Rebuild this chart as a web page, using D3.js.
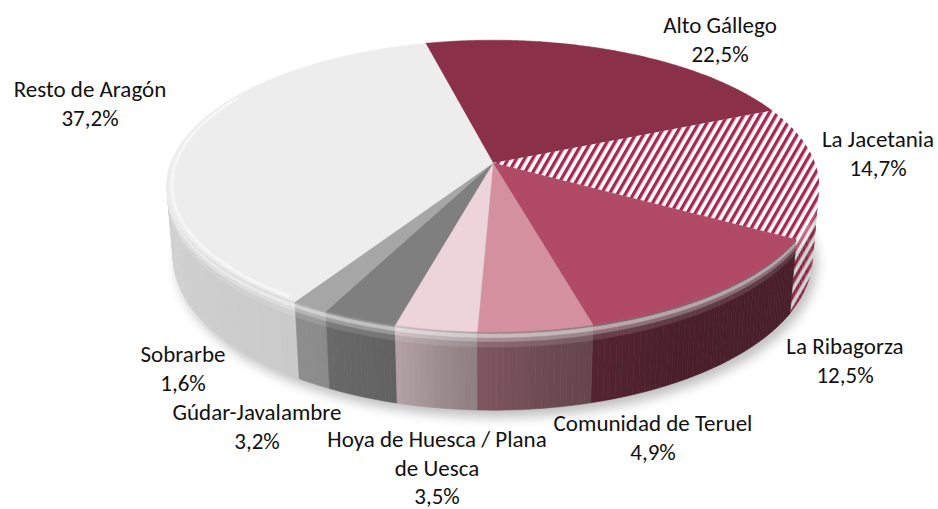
<!DOCTYPE html>
<html>
<head>
<meta charset="utf-8">
<script src="https://cdn.jsdelivr.net/npm/d3@7"></script>
<style>
  body { margin: 0; background: #fff; }
  svg text { font-family: Carlito, Calibri, Lato, sans-serif; fill: #111; }
</style>
</head>
<body>
<svg id="pie" width="938" height="509"></svg>
<script>
// --- data ---
const regions = ["Alto Gállego", "La Jacetania", "La Ribagorza", "Comunidad de Teruel",
  "Hoya de Huesca / Plana de Uesca", "Gúdar-Javalambre", "Sobrarbe", "Resto de Aragón"];
const shares = [22.5, 14.7, 12.5, 4.9, 3.5, 3.2, 1.6, 37.2];
const topColors = ["#8a3149", "hatch", "#b04a67", "#d4909f", "#ecd4da", "#7f7f7f", "#a6a6a6", "#ededed"];

// label anchors (centre x, first baseline)
const labelAt = [[720, 33], [878, 147], [845, 354], [653, 431], [437, 447], [257, 420], [183, 362], [90, 97]];

const svg = d3.select("#pie");
const defs = svg.append("defs");

// --- 3D projection (tilted disc with a little perspective) ---
const cx = 493, cy = 163, S = 322, D = 5.7, tilt = 26.2 * Math.PI / 180, h = 0.245;
const sinP = Math.sin(tilt), cosP = Math.cos(tilt);
function proj(theta, r, z) {
  const X = r * Math.sin(theta), Y = r * Math.cos(theta);
  const f = D / (D + Y * cosP - z * sinP);
  return [cx + S * X * f, cy - S * (Y * sinP + z * cosP) * f];
}

const deg = Math.PI / 180;
const start = -14 * deg;
const pie = d3.pie().sort(null).value(d => d).startAngle(start).endAngle(start + 2 * Math.PI);
const arcs = pie(shares);

const fmt = d3.formatLocale({ decimal: ",", thousands: ".", grouping: [3], currency: ["", "€"] }).format(".1f");

// hatch pattern for La Jacetania
defs.append("pattern")
  .attr("id", "hatch").attr("patternUnits", "userSpaceOnUse")
  .attr("width", 7).attr("height", 7)
  .attr("patternTransform", "rotate(30)")
  .call(p => {
    p.append("rect").attr("width", 7).attr("height", 7).attr("fill", "#ffffff");
    p.append("rect").attr("width", 3.4).attr("height", 7).attr("fill", "#a52a50");
  });

defs.append("filter").attr("id", "blur").attr("x", "-20%").attr("y", "-20%").attr("width", "140%").attr("height", "140%")
  .append("feGaussianBlur").attr("stdDeviation", 6);

const line = d3.line();
function ring(a0, a1, r, z) {
  const n = Math.max(2, Math.ceil((a1 - a0) / (0.5 * deg)));
  return d3.range(n + 1).map(i => proj(a0 + (a1 - a0) * i / n, r, z));
}

// --- shadow under the disc ---
svg.append("path")
  .attr("d", line(ring(0, 2 * Math.PI, 1.0, -h)) + "Z")
  .attr("transform", "translate(4,7)")
  .attr("fill", "#000").attr("opacity", 0.25)
  .attr("filter", "url(#blur)");

// --- side wall ---
// brightness of the wall depending on where it faces
const shade = d3.scaleLinear()
  .domain([90, 150, 170, 185, 195, 210, 270].map(d => d * deg))
  .range([0.4, 0.42, 0.5, 0.62, 0.76, 0.85, 0.9])
  .clamp(true);
// bevel highlight bands near the top rim: [z from, z to, white mix]
const bands = [[0, 0.03, 0.3], [0.03, 0.08, 0.6], [0.08, 0.13, 0.35], [0.13, 0.2, 0.12], [0.2, 1, 0]];

const pieces = [];
arcs.forEach((a, i) => {
  const lo = Math.max(a.startAngle, 90 * deg), hi = Math.min(a.endAngle, 270 * deg);
  if (hi <= lo) return;
  const n = Math.ceil((hi - lo) / deg);
  for (let k = 0; k < n; k++) {
    const t0 = lo + (hi - lo) * k / n, t1 = lo + (hi - lo) * (k + 1) / n;
    pieces.push({ i, t0, t1, mid: (t0 + t1) / 2 });
  }
});
pieces.sort((p, q) => Math.cos(q.mid) - Math.cos(p.mid));

const wall = svg.append("g");
pieces.forEach(p => {
  const b = shade(p.mid);
  bands.forEach(([z0, z1, w]) => {
    const quad = [proj(p.t0, 1, -z0 * h), proj(p.t1, 1, -z0 * h), proj(p.t1, 1, -z1 * h), proj(p.t0, 1, -z1 * h)];
    if (topColors[p.i] === "hatch") {
      wall.append("path").attr("d", line(quad) + "Z").attr("fill", "url(#hatch)");
      wall.append("path").attr("d", line(quad) + "Z")
        .attr("fill", w > 0 ? "#fff" : "#000")
        .attr("opacity", w > 0 ? w * 0.6 : (1 - b) * 0.3);
      return;
    }
    const c = d3.rgb(topColors[p.i]);
    const base = d3.rgb(c.r * b, c.g * b, c.b * b);
    const fill = d3.interpolateRgb(base, "#ffffff")(w);
    wall.append("path").attr("d", line(quad) + "Z")
      .attr("fill", fill).attr("stroke", fill).attr("stroke-width", 0.6);
  });
});

// --- top face ---
const topFace = svg.append("g");
arcs.forEach((a, i) => {
  const pts = [proj(0, 0, 0)].concat(ring(a.startAngle, a.endAngle, 1, 0));
  const fill = topColors[i] === "hatch" ? "url(#hatch)" : topColors[i];
  topFace.append("path")
    .attr("d", line(pts) + "Z")
    .attr("fill", fill)
    .attr("stroke", topColors[i] === "hatch" ? "none" : fill)
    .attr("stroke-width", 0.5);
});
// soft rim highlight on the top face (left part only)
topFace.append("path")
  .attr("d", line(ring(214 * deg, 300 * deg, 0.985, 0)))
  .attr("fill", "none").attr("stroke", "#fff").attr("stroke-width", 3).attr("opacity", 0.5);

// --- labels ---
const fontSize = 23, lh = 28.5, maxW = 245;
const labels = svg.append("g").attr("font-size", fontSize).attr("text-anchor", "middle");
arcs.forEach((a, i) => {
  const [x, y] = labelAt[i];
  const t = labels.append("text").attr("x", x).attr("y", y);
  // simple word wrap
  const words = regions[i].split(" ");
  const lines = [];
  let cur = [];
  const probe = labels.append("text").attr("visibility", "hidden");
  words.forEach(w => {
    const test = cur.concat(w).join(" ");
    probe.text(test);
    if (cur.length && probe.node().getComputedTextLength() > maxW) { lines.push(cur.join(" ")); cur = [w]; }
    else cur.push(w);
  });
  lines.push(cur.join(" "));
  probe.remove();
  lines.push(fmt(shares[i]) + "%");
  lines.forEach((l, k) => t.append("tspan").attr("x", x).attr("y", y + k * lh).text(l));
});
</script>
</body>
</html>
